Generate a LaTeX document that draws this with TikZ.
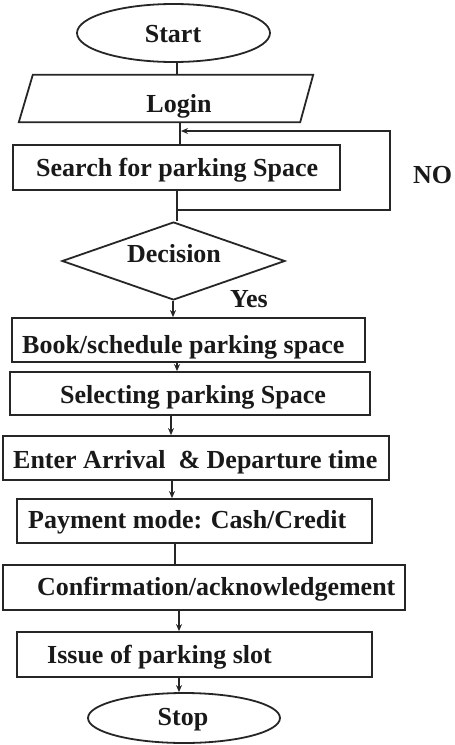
\documentclass[tikz,border=0pt]{standalone}
\usepackage{fontspec}
\setmainfont{Liberation Serif}
\usetikzlibrary{shapes.geometric,arrows.meta}
\begin{document}
\begin{tikzpicture}[x=1pt,y=-1pt,
  shape frame/.style={draw=black!85, line width=1.8pt, inner sep=0pt, fill=white},
  box/.style={shape frame, rectangle},
  oval/.style={shape frame, ellipse},
  lbl/.style={text=black!90, inner sep=0pt, font=\fontsize{26}{30}\selectfont\bfseries},
  conn/.style={draw=black!85, line width=2.4pt},
  arr/.style={conn, -{Stealth[length=7pt,width=6pt]}},
]
\useasboundingbox (0,0) rectangle (455,745);

% columns used by the vertical connectors
\foreach \cx in {171,172,173,175,177,179,180}
  \coordinate (c\cx) at (\cx,0);

% terminals and process boxes
\node[oval, minimum width=193pt, minimum height=58pt] (start) at (173.5,33) {};
\node[inner sep=0pt, minimum width=294pt, minimum height=47pt] (login) at (166,98.5) {};
\draw[shape frame] ([xshift=14pt]login.north west) -- (login.north east)
  -- ([xshift=-13pt]login.south east) -- (login.south west) -- cycle;
\node[box, minimum width=327pt, minimum height=45pt] (search) at (176.5,167.5) {};
\node[shape frame, diamond, aspect=2.86, minimum width=223pt, minimum height=78pt] (dec) at (173.5,261) {};
\node[box, minimum width=353pt, minimum height=44pt] (book) at (188.5,340) {};
\node[box, minimum width=360pt, minimum height=43pt] (sel) at (190,393.5) {};
\node[box, minimum width=386pt, minimum height=44pt] (enter) at (196,458) {};
\node[box, minimum width=355pt, minimum height=44pt] (pay) at (194.5,521) {};
\node[box, minimum width=402pt, minimum height=45pt] (conf) at (204,587.5) {};
\node[box, minimum width=355pt, minimum height=45pt] (issue) at (194.5,654.5) {};
\node[oval, minimum width=192pt, minimum height=50pt] (stop) at (184,718) {};

% texts
\node[lbl, anchor=base] (tstart) at (173,42) {Start};
\node[lbl, anchor=base] (tlogin) at (179,112) {Login};
\node[lbl, anchor=base west] (tsearch) at (36,176) {Search for parking Space};
\node[lbl, anchor=base] (tdec) at (174,262) {Decision};
\node[lbl, anchor=base west] (tyes) at (230,307) {Yes};
\node[lbl, anchor=base west] (tno) at (413,183) {NO};
\node[lbl, anchor=base west] (tbook) at (22,353) {Book/schedule parking space};
\node[lbl, anchor=base west] (tsel) at (60,403) {Selecting parking Space};
\node[lbl, anchor=base west] (tenter) at (13,468) {Enter Arrival\ \ \& Departure time};
\node[lbl, anchor=base west] (tpay) at (28,528) {Payment mode: Cash/Credit};
\node[lbl, anchor=base west] (tconf) at (37,595) {Confirmation/acknowledgement};
\node[lbl, anchor=base west] (tissue) at (47,663) {Issue of parking slot};
\node[lbl, anchor=base] (tstop) at (183,725) {Stop};

% main flow
\draw[conn] (start.south -| c177) -- (login.north -| c177);
\draw[conn] (login.south -| c180) -- (search.north -| c180);
\draw[conn] (search.south -| c177) -- (dec.north -| c177);
\draw[arr] (dec.south -| c173) -- (book.north -| c173);
\draw[arr] (book.south -| c177) -- (sel.north -| c177);
\draw[arr] (sel.south -| c171) -- (enter.north -| c171);
\draw[arr] (enter.south -| c172) -- (pay.north -| c172);
\draw[conn] (pay.south -| c175) -- (conf.north -| c175);
\draw[arr] (conf.south -| c179) -- (issue.north -| c179);
\draw[arr] (issue.south -| c179) -- (stop.north -| c179);

% "NO" loop back to the search step
\coordinate (loopout) at (177,210);
\coordinate (loopin) at (181,131);
\draw[arr, line width=2.2pt] (loopout) -- (390,210) -- (390,131) -- (loopin);
\end{tikzpicture}
\end{document}
